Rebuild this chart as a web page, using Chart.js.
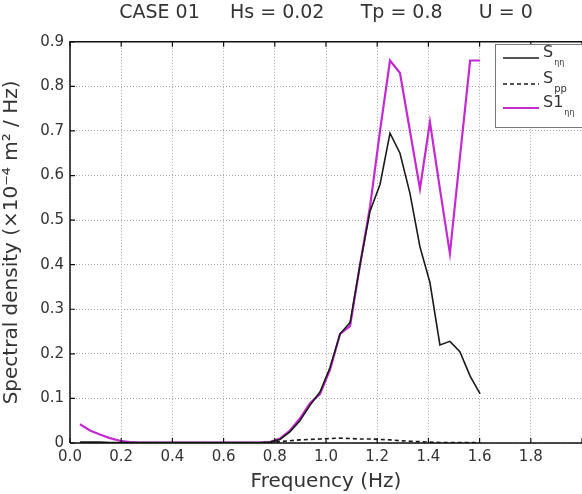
<!DOCTYPE html>
<html>
<head>
<meta charset="utf-8">
<script src="https://cdn.jsdelivr.net/npm/chart.js@4.4.0/dist/chart.umd.min.js"></script>
<style>
  body { margin: 0; background: #fff; }
  #wrap { width: 582px; height: 494px; }
</style>
</head>
<body>
<div id="wrap"><canvas id="c"></canvas></div>
<script>
// frequency bins (Hz)
const freqs = [0.039, 0.078, 0.117, 0.156, 0.195, 0.234, 0.273, 0.313, 0.352, 0.391,
  0.430, 0.469, 0.508, 0.547, 0.586, 0.625, 0.664, 0.703, 0.742, 0.781,
  0.820, 0.859, 0.898, 0.938, 0.977, 1.016, 1.055, 1.094, 1.133, 1.172,
  1.211, 1.250, 1.289, 1.328, 1.367, 1.406, 1.445, 1.484, 1.523, 1.563, 1.602];

// S_eta eta (black)
const sEta = [0.002, 0.002, 0.002, 0.001, 0.001, 0.001, 0.001, 0.001, 0.001, 0.001,
  0.001, 0.001, 0.001, 0.001, 0.001, 0.001, 0.001, 0.001, 0.001, 0.002,
  0.008, 0.025, 0.050, 0.085, 0.115, 0.170, 0.245, 0.270, 0.400, 0.520,
  0.580, 0.695, 0.650, 0.560, 0.440, 0.360, 0.220, 0.228, 0.205, 0.150, 0.110];

// S_pp (dashed)
const sPp = [0.0005, 0.0005, 0.0005, 0.0005, 0.0005, 0.0005, 0.0005, 0.0005, 0.0005, 0.0005,
  0.0005, 0.0005, 0.0005, 0.0005, 0.0005, 0.0005, 0.0005, 0.0005, 0.0005, 0.001,
  0.003, 0.005, 0.007, 0.008, 0.009, 0.010, 0.011, 0.010, 0.009, 0.009,
  0.008, 0.007, 0.005, 0.004, 0.003, 0.002, 0.001, 0.001, 0.001, 0.001, 0.001];

// S1_eta eta (magenta)
const s1Eta = [0.042, 0.028, 0.019, 0.011, 0.005, 0.002, 0.001, 0.001, 0.001, 0.001,
  0.001, 0.001, 0.001, 0.001, 0.001, 0.001, 0.001, 0.001, 0.001, 0.002,
  0.010, 0.028, 0.055, 0.090, 0.110, 0.165, 0.245, 0.262, 0.400, 0.530,
  0.700, 0.858, 0.830, 0.700, 0.570, 0.720, 0.570, 0.425, 0.640, 0.858, 0.858];

const legendNames = [["S", "ηη"], ["S", "pp"], ["S1", "ηη"]];
const titleText = "CASE 01     Hs = 0.02      Tp = 0.8      U = 0";
const textColor = "#333";
const fontFam = "'DejaVu Sans', Verdana, sans-serif";

const pts = (ys) => freqs.map((f, i) => ({ x: f, y: ys[i] }));

// frame, inward ticks and the legend box
const framePlugin = {
  id: "frame",
  afterDatasetsDraw(chart) {
    const { ctx, chartArea: a, scales: { x, y } } = chart;
    ctx.save();
    ctx.strokeStyle = "#111";
    ctx.lineWidth = 1.5;
    ctx.beginPath();
    ctx.moveTo(a.left, a.bottom); ctx.lineTo(a.left, a.top); ctx.lineTo(a.right + 2, a.top);
    ctx.moveTo(a.left, a.bottom); ctx.lineTo(a.right + 2, a.bottom);
    ctx.stroke();
    ctx.lineWidth = 1.2;
    ctx.beginPath();
    x.ticks.forEach(t => {
      const px = x.getPixelForValue(t.value);
      ctx.moveTo(px, a.bottom); ctx.lineTo(px, a.bottom - 5);
      ctx.moveTo(px, a.top); ctx.lineTo(px, a.top + 5);
    });
    y.ticks.forEach(t => {
      const py = y.getPixelForValue(t.value);
      ctx.moveTo(a.left, py); ctx.lineTo(a.left + 5, py);
    });
    ctx.stroke();

    // legend
    const bx = 495, by = 44, bw = 90, bh = 83;
    ctx.fillStyle = "#fff";
    ctx.fillRect(bx, by, bw, bh);
    ctx.strokeStyle = "#777";
    ctx.lineWidth = 1;
    ctx.strokeRect(bx + 0.5, by + 0.5, bw, bh);
    const rows = [58, 84, 108];
    chart.data.datasets.forEach((ds, i) => {
      const ry = rows[i];
      ctx.strokeStyle = ds.borderColor;
      ctx.lineWidth = ds.borderWidth;
      ctx.setLineDash(ds.borderDash || []);
      ctx.beginPath();
      ctx.moveTo(bx + 8, ry); ctx.lineTo(bx + 44, ry);
      ctx.stroke();
      ctx.setLineDash([]);
      ctx.fillStyle = textColor;
      ctx.textBaseline = "middle";
      ctx.textAlign = "left";
      ctx.font = "16px " + fontFam;
      const [main, sub] = legendNames[i];
      ctx.fillText(main, bx + 48, ry - 5);
      const w = ctx.measureText(main).width;
      ctx.font = (sub === "pp" ? "10px " : "8px ") + fontFam;
      ctx.fillText(sub, bx + 48 + w + 1, ry + 5);
    });
    ctx.restore();
  }
};

new Chart(document.getElementById("c"), {
  type: "line",
  data: {
    datasets: [
      { label: "S_ηη", data: pts(sEta), borderColor: "#1a1a1a", borderWidth: 1.6, pointRadius: 0, tension: 0 },
      { label: "S_pp", data: pts(sPp), borderColor: "#1a1a1a", borderWidth: 1.6, borderDash: [4, 3], pointRadius: 0, tension: 0 },
      { label: "S1_ηη", data: pts(s1Eta), borderColor: "#c42ad0", borderWidth: 2.2, pointRadius: 0, tension: 0 }
    ]
  },
  options: {
    responsive: true,
    maintainAspectRatio: false,
    animation: false,
    layout: { padding: { left: 0, right: 0, top: 0, bottom: 0 } },
    plugins: {
      legend: { display: false },
      tooltip: { enabled: false },
      title: {
        display: true,
        text: titleText,
        fullSize: false,
        color: textColor,
        font: { family: fontFam, size: 19, weight: "normal" },
        padding: { top: 2, bottom: 17 }
      }
    },
    scales: {
      x: {
        type: "linear",
        min: 0, max: 2,
        ticks: {
          stepSize: 0.2,
          color: textColor,
          padding: 5,
          maxRotation: 0,
          font: { family: fontFam, size: 15 },
          callback: (v) => (v > 1.9 ? "" : v.toFixed(1))
        },
        grid: { color: "#a8a8a8", lineWidth: 1, drawTicks: false },
        border: { display: false, dash: [1, 2] },
        title: {
          display: true, text: "Frequency (Hz)", color: textColor,
          font: { family: fontFam, size: 20 }, padding: { top: 0, bottom: 0 }
        },
        afterFit(s) { s.height = 51; s.paddingLeft = 0; s.paddingRight = 0; }
      },
      y: {
        min: 0, max: 0.9,
        ticks: {
          stepSize: 0.1,
          color: textColor,
          padding: 6,
          font: { family: fontFam, size: 15 },
          callback: (v) => (Math.abs(v) < 1e-9 ? "0" : v.toFixed(1))
        },
        grid: { color: "#a8a8a8", lineWidth: 1, drawTicks: false },
        border: { display: false, dash: [1, 2] },
        title: {
          display: true, text: "Spectral density (×10⁻⁴ m² / Hz)", color: textColor,
          font: { family: fontFam, size: 20 }, padding: { top: 0, bottom: 2 }
        },
        afterFit(s) { s.width = 70; }
      }
    }
  },
  plugins: [framePlugin]
});
</script>
</body>
</html>
